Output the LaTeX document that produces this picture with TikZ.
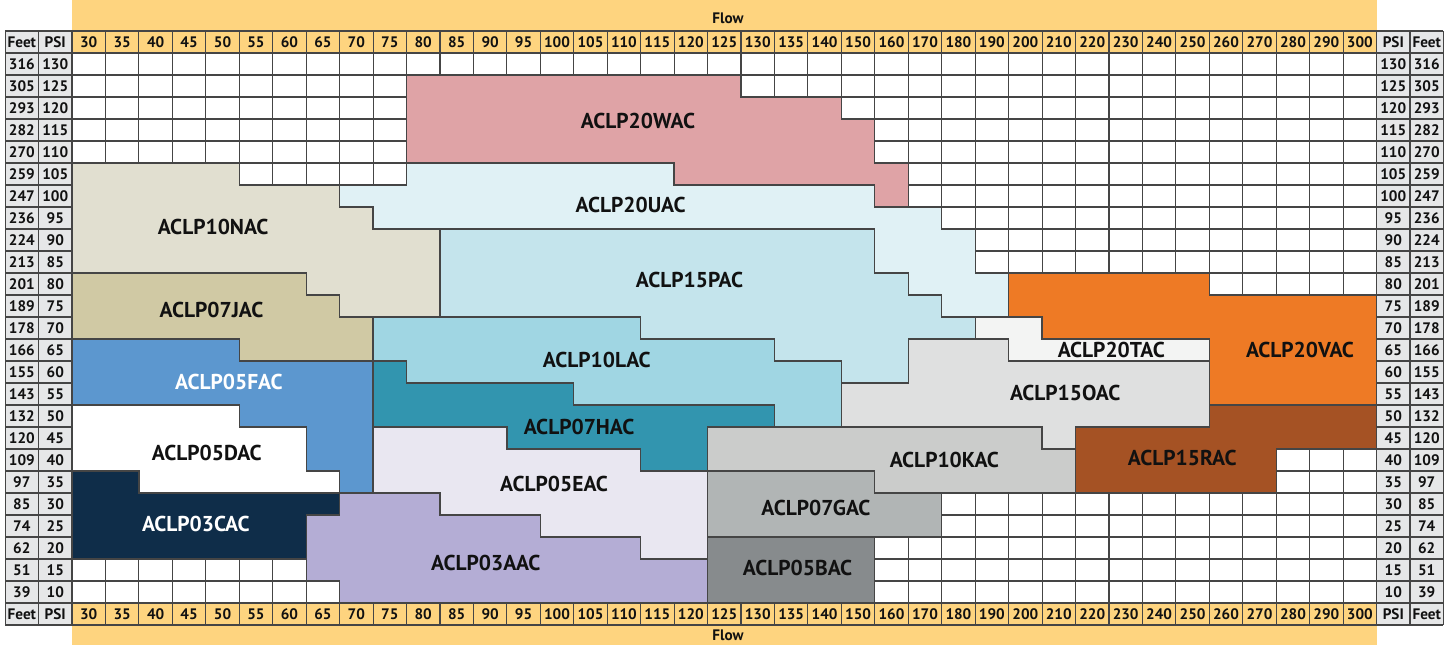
\documentclass[tikz,border=0pt]{standalone}
\usepackage{fontspec}
\setmainfont{PT Sans}
\definecolor{flowyel}{HTML}{FED47F}
\definecolor{sidegray}{HTML}{E6E7E8}
\definecolor{linegray}{HTML}{454545}
\definecolor{inktext}{HTML}{111111}
\definecolor{colW}{HTML}{DFA3A6}
\definecolor{colU}{HTML}{E0F1F5}
\definecolor{colN}{HTML}{E1DFD0}
\definecolor{colP}{HTML}{C4E4EC}
\definecolor{colJ}{HTML}{D0C9A4}
\definecolor{colL}{HTML}{A0D6E3}
\definecolor{colF}{HTML}{5C97CF}
\definecolor{colH}{HTML}{3295AF}
\definecolor{colE}{HTML}{E9E7F1}
\definecolor{colC}{HTML}{0F2D49}
\definecolor{colA}{HTML}{B4ADD5}
\definecolor{colT}{HTML}{F3F4F3}
\definecolor{colV}{HTML}{EE7A25}
\definecolor{colO}{HTML}{DFE0E0}
\definecolor{colR}{HTML}{A55224}
\definecolor{colK}{HTML}{CBCCCB}
\definecolor{colG}{HTML}{B1B5B5}
\definecolor{colB}{HTML}{878B8D}
\begin{document}
\begin{tikzpicture}[x=1pt, y=-1pt,
    hdrtxt/.style={font=\bfseries\fontsize{15.2}{15.2}\selectfont, text=inktext, inner sep=0pt},
    gline/.style={draw=linegray, line width=1.1pt},
    zone/.style={draw=linegray, line width=1.3pt},
    zonetxt/.style={font=\bfseries\fontsize{21.5}{21.5}\selectfont, text=inktext, inner sep=0pt}]
    \useasboundingbox (0,0) rectangle (1453,645);

    % Flow bands
    \fill[flowyel] (72,0) rectangle (1376.6,31);
    \fill[flowyel] (72,625) rectangle (1376.6,645);
    \node[hdrtxt] (flowtop) at (728,18) {Flow};
    \node[hdrtxt] (flowbot) at (728,635) {Flow};

    % Table, one unit = one cell
    \begin{scope}[shift={(72pt,-53pt)}, x=33.45pt, y=-22pt]
        % Backgrounds
        \fill[sidegray] (-2,-1) rectangle (0,26);
        \fill[sidegray] (39,-1) rectangle (41,26);
        \fill[flowyel] (0,-1) rectangle (39,0);
        \fill[flowyel] (0,25) rectangle (39,26);
        \fill[white] (0,0) rectangle (39,25);

        % Grid lines
        \foreach \c in {-2,...,41} \draw[gline] (\c,-1) -- (\c,26);
        \foreach \r in {-1,...,26} \draw[gline] (-2,\r) -- (41,\r);

        % Zones
        \filldraw[zone, fill=colW] (10,1) -- (20,1) -- (20,2) -- (23,2) -- (23,3) -- (24,3) -- (24,5) -- (25,5) -- (25,7) -- (24,7) -- (24,6) -- (18,6) -- (18,5) -- (10,5) -- cycle;
        \filldraw[zone, fill=colU] (10,5) -- (18,5) -- (18,6) -- (24,6) -- (24,7) -- (26,7) -- (26,8) -- (27,8) -- (27,10) -- (28,10) -- (28,12) -- (26,12) -- (26,11) -- (25,11) -- (25,10) -- (24,10) -- (24,8) -- (9,8) -- (9,7) -- (8,7) -- (8,6) -- (10,6) -- cycle;
        \filldraw[zone, fill=colN] (0,5) -- (5,5) -- (5,6) -- (8,6) -- (8,7) -- (9,7) -- (9,8) -- (11,8) -- (11,12) -- (8,12) -- (8,11) -- (7,11) -- (7,10) -- (0,10) -- cycle;
        \filldraw[zone, fill=colJ] (0,10) -- (7,10) -- (7,11) -- (8,11) -- (8,12) -- (9,12) -- (9,14) -- (5,14) -- (5,13) -- (0,13) -- cycle;
        \filldraw[zone, fill=colP] (11,8) -- (24,8) -- (24,10) -- (25,10) -- (25,11) -- (26,11) -- (26,12) -- (27,12) -- (27,13) -- (25,13) -- (25,15) -- (23,15) -- (23,14) -- (21,14) -- (21,13) -- (17,13) -- (17,12) -- (11,12) -- cycle;
        \filldraw[zone, fill=colL] (9,12) -- (17,12) -- (17,13) -- (21,13) -- (21,14) -- (23,14) -- (23,17) -- (21,17) -- (21,16) -- (15,16) -- (15,15) -- (10,15) -- (10,14) -- (9,14) -- cycle;
        \filldraw[zone, fill=colH] (9,14) -- (10,14) -- (10,15) -- (15,15) -- (15,16) -- (21,16) -- (21,17) -- (19,17) -- (19,19) -- (17,19) -- (17,18) -- (13,18) -- (13,17) -- (9,17) -- cycle;
        \filldraw[zone, fill=colF] (0,13) -- (5,13) -- (5,14) -- (9,14) -- (9,20) -- (8,20) -- (8,19) -- (7,19) -- (7,17) -- (5,17) -- (5,16) -- (0,16) -- cycle;
        \filldraw[zone, fill=white] (0,16) -- (5,16) -- (5,17) -- (7,17) -- (7,19) -- (8,19) -- (8,20) -- (2,20) -- (2,19) -- (0,19) -- cycle;
        \filldraw[zone, fill=colC] (0,19) -- (2,19) -- (2,20) -- (8,20) -- (8,21) -- (7,21) -- (7,23) -- (0,23) -- cycle;
        \filldraw[zone, fill=colE] (9,17) -- (13,17) -- (13,18) -- (17,18) -- (17,19) -- (19,19) -- (19,23) -- (17,23) -- (17,22) -- (14,22) -- (14,21) -- (11,21) -- (11,20) -- (9,20) -- cycle;
        \filldraw[zone, fill=colA] (8,20) -- (11,20) -- (11,21) -- (14,21) -- (14,22) -- (17,22) -- (17,23) -- (19,23) -- (19,25) -- (8,25) -- (8,24) -- (7,24) -- (7,21) -- (8,21) -- cycle;
        \filldraw[zone, fill=colK] (19,17) -- (29,17) -- (29,18) -- (30,18) -- (30,20) -- (24,20) -- (24,19) -- (19,19) -- cycle;
        \filldraw[zone, fill=colG] (19,19) -- (24,19) -- (24,20) -- (26,20) -- (26,22) -- (19,22) -- cycle;
        \filldraw[zone, fill=colB] (19,22) rectangle (24,25);
        \filldraw[zone, fill=colO] (25,13) -- (28,13) -- (28,14) -- (34,14) -- (34,17) -- (30,17) -- (30,18) -- (29,18) -- (29,17) -- (23,17) -- (23,15) -- (25,15) -- cycle;
        \filldraw[zone, fill=colT] (27,12) -- (29,12) -- (29,13) -- (34,13) -- (34,14) -- (28,14) -- (28,13) -- (27,13) -- cycle;
        \filldraw[zone, fill=colV] (28,10) -- (34,10) -- (34,11) -- (39,11) -- (39,16) -- (34,16) -- (34,13) -- (29,13) -- (29,12) -- (28,12) -- cycle;
        \filldraw[zone, fill=colR] (34,16) -- (39,16) -- (39,18) -- (36,18) -- (36,20) -- (30,20) -- (30,17) -- (34,17) -- cycle;

        % Zone labels
        \node[zonetxt] (wac) at (16.92,3.07) {ACLP20WAC};
        \node[zonetxt] (uac) at (16.70,6.93) {ACLP20UAC};
        \node[zonetxt] (nac) at (4.22,7.93) {ACLP10NAC};
        \node[zonetxt] (pac) at (18.46,10.30) {ACLP15PAC};
        \node[zonetxt] (jac) at (4.17,11.66) {ACLP07JAC};
        \node[zonetxt] (lac) at (15.69,13.95) {ACLP10LAC};
        \node[zonetxt, text=white] (fac) at (4.69,14.94) {ACLP05FAC};
        \node[zonetxt] (hac) at (15.16,17.02) {ACLP07HAC};
        \node[zonetxt] (dac) at (4.03,18.16) {ACLP05DAC};
        \node[zonetxt] (eac) at (14.41,19.60) {ACLP05EAC};
        \node[zonetxt, text=white] (cac) at (3.70,21.43) {ACLP03CAC};
        \node[zonetxt] (aac) at (12.37,23.16) {ACLP03AAC};
        \node[zonetxt] (tac) at (31.07,13.50) {ACLP20TAC};
        \node[zonetxt] (vac) at (36.71,13.50) {ACLP20VAC};
        \node[zonetxt] (oac) at (29.69,15.45) {ACLP15OAC};
        \node[zonetxt] (rac) at (33.19,18.43) {ACLP15RAC};
        \node[zonetxt] (kac) at (26.08,18.48) {ACLP10KAC};
        \node[zonetxt] (gac) at (22.24,20.66) {ACLP07GAC};
        \node[zonetxt] (bac) at (21.69,23.42) {ACLP05BAC};

        % Header cells
        \node[hdrtxt] (feetTL) at (-1.5,-0.5) {Feet};
        \node[hdrtxt] (psiTL) at (-0.5,-0.5) {PSI};
        \node[hdrtxt] (psiTR) at (39.5,-0.5) {PSI};
        \node[hdrtxt] (feetTR) at (40.5,-0.5) {Feet};
        \node[hdrtxt] (feetBL) at (-1.5,25.5) {Feet};
        \node[hdrtxt] (psiBL) at (-0.5,25.5) {PSI};
        \node[hdrtxt] (psiBR) at (39.5,25.5) {PSI};
        \node[hdrtxt] (feetBR) at (40.5,25.5) {Feet};
        \foreach \v [count=\i from 0] in {30,35,40,45,50,55,60,65,70,75,80,85,90,95,100,105,110,115,120,125,130,135,140,150,160,170,180,190,200,210,220,230,240,250,260,270,280,290,300} {
            \node[hdrtxt] (flowT\i) at (\i+0.5,-0.5) {\v};
            \node[hdrtxt] (flowB\i) at (\i+0.5,25.5) {\v};
        }

        % Row labels
        \foreach \ft/\p [count=\r from 0] in {316/130,305/125,293/120,282/115,270/110,259/105,247/100,236/95,224/90,213/85,201/80,189/75,178/70,166/65,155/60,143/55,132/50,120/45,109/40,97/35,85/30,74/25,62/20,51/15,39/10} {
            \node[hdrtxt] (feetL\r) at (-1.5,\r+0.5) {\ft};
            \node[hdrtxt] (psiL\r) at (-0.5,\r+0.5) {\p};
            \node[hdrtxt] (psiR\r) at (39.5,\r+0.5) {\p};
            \node[hdrtxt] (feetR\r) at (40.5,\r+0.5) {\ft};
        }
    \end{scope}
\end{tikzpicture}
\end{document}
